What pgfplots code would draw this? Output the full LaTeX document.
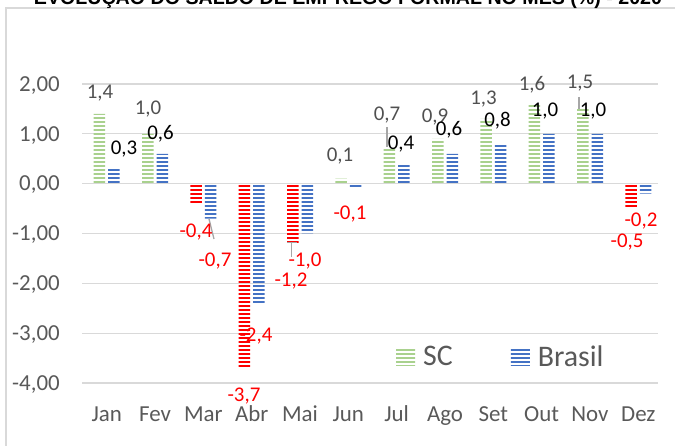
\documentclass[border=0pt]{standalone}
\usepackage{pgfplots}
\pgfplotsset{compat=1.18}
\usetikzlibrary{patterns.meta}
\usepackage{fontspec}
\setmainfont{Carlito}
\newfontfamily\titlefont{Liberation Sans}
\definecolor{scgreen}{HTML}{A9D18E}
\definecolor{brblue}{HTML}{4472C4}
\definecolor{negred}{HTML}{FF0000}
\definecolor{gridgray}{HTML}{D9D9D9}
\definecolor{txtgray}{HTML}{595959}
\definecolor{lblgray}{HTML}{505050}
\definecolor{leadgray}{HTML}{A6A6A6}
\newcommand{\lbl}[4]{\node[anchor=base,inner sep=0pt,text=#3,font=\fontsize{21}{21}\selectfont] at (axis cs:#1,#2) {#4};}
\begin{document}
\begin{tikzpicture}
\useasboundingbox (0,0) rectangle (675bp,446bp);
\clip (0,0) rectangle (675bp,446bp);
\draw[color=gridgray, line width=1.5bp] (6bp,-5bp) -- (6bp,438bp) -- (680bp,438bp);
\node[anchor=base, inner sep=0pt, font=\titlefont\bfseries\fontsize{19.7}{20}\selectfont] at (348bp,441.5bp) {EVOLUÇÃO DO SALDO DE EMPREGO FORMAL NO MÊS (\%) - 2020};
\begin{axis}[
  at={(82bp,63bp)}, anchor=south west,
  width=576bp, height=299bp, scale only axis,
  xmin=-0.511, xmax=11.407, ymin=-4, ymax=2,
  clip=false,
  axis line style={draw=none},
  tick style={draw=none},
  ymajorgrids, grid style={gridgray, line width=1.2bp},
  ytick={-4,-3,-2,-1,0,1,2},
  xtick={0,1,2,3,4,5,6,7,8,9,10,11},
  xticklabels={Jan,Fev,Mar,Abr,Mai,Jun,Jul,Ago,Set,Out,Nov,Dez},
  /pgf/number format/assume math mode=true,
  yticklabel style={/pgf/number format/.cd, fixed, fixed zerofill, precision=2, use comma, /tikz/.cd, anchor=base east, inner sep=0pt, xshift=-22bp, yshift=-7.3bp, text=txtgray, font=\fontsize{23}{23}\selectfont},
  xticklabel style={anchor=base, inner sep=0pt, yshift=-38.7bp, text=txtgray, font=\fontsize{23}{23}\selectfont},
  legend image code/.code={\path[#1,draw=none] (0bp,-9bp) rectangle (19bp,9bp);},
  legend style={at={(rel axis cs:0.545,0.087)}, anchor=west, draw=none, fill=none, legend columns=2, font=\fontsize{30}{30}\selectfont, text=txtgray, inner sep=0pt, nodes={inner sep=0pt},
    /tikz/every odd column/.append style={column sep=8bp},
    /tikz/every even column/.append style={column sep=58bp}},
]
\addplot[ybar, bar width=11.5bp, bar shift=-7.25bp, draw=none, pattern={Lines[angle=0,distance=4bp,line width=2bp]}, pattern color=scgreen]
  coordinates {(0,1.4) (1,1.0) (5,0.1) (6,0.7) (7,0.9) (8,1.3) (9,1.6) (10,1.5)};
\addlegendentry{SC}
\addplot[ybar, bar width=11.5bp, bar shift=7.25bp, draw=none, pattern={Lines[angle=0,distance=4bp,line width=2bp]}, pattern color=brblue]
  coordinates {(0,0.3) (1,0.6) (2,-0.7) (3,-2.4) (4,-1.0) (5,-0.1) (6,0.4) (7,0.6) (8,0.8) (9,1.0) (10,1.0) (11,-0.2)};
\addlegendentry{Brasil}
\addplot[ybar, bar width=11.5bp, bar shift=-7.25bp, draw=none, pattern={Lines[angle=0,distance=4bp,line width=2bp]}, pattern color=negred, forget plot]
  coordinates {(2,-0.4) (3,-3.7) (4,-1.2) (11,-0.5)};
% leader lines
\draw[leadgray, line width=1.3bp] (axis cs:2.117,-0.708) -- (axis cs:2.220,-1.110);
\draw[leadgray, line width=1.3bp] (axis cs:3.73,-1.184) -- (axis cs:3.93,-1.184);
\draw[leadgray, line width=1.3bp] (axis cs:3.828,-1.184) -- (axis cs:3.828,-1.471);
\draw[leadgray, line width=1.3bp] (axis cs:5.800,1.138) -- (axis cs:5.800,0.737);
\draw[leadgray, line width=1.3bp] (axis cs:9.772,1.740) -- (axis cs:9.772,1.499);
\lbl{-0.139}{1.718}{lblgray}{1,4}
\lbl{0.358}{0.584}{black}{0,3}
\lbl{0.855}{1.397}{lblgray}{1,0}
\lbl{1.113}{0.895}{black}{0,6}
\lbl{1.848}{-1.082}{negred}{-0,4}
\lbl{2.241}{-1.664}{negred}{-0,7}
\lbl{3.089}{-3.159}{negred}{-2,4}
\lbl{2.841}{-4.373}{negred}{-3,7}
\lbl{4.103}{-1.654}{negred}{-1,0}
\lbl{3.813}{-2.065}{negred}{-1,2}
\lbl{4.827}{0.444}{lblgray}{0,1}
\lbl{5.034}{-0.720}{negred}{-0,1}
\lbl{5.800}{1.276}{lblgray}{0,7}
\lbl{6.089}{0.684}{black}{0,4}
\lbl{6.793}{1.226}{lblgray}{0,9}
\lbl{7.083}{0.975}{black}{0,6}
\lbl{7.796}{1.587}{lblgray}{1,3}
\lbl{8.086}{1.146}{black}{0,8}
\lbl{8.800}{1.868}{lblgray}{1,6}
\lbl{9.069}{1.347}{black}{1,0}
\lbl{9.793}{1.908}{lblgray}{1,5}
\lbl{10.062}{1.347}{black}{1,0}
\lbl{11.055}{-0.851}{negred}{-0,2}
\lbl{10.766}{-1.282}{negred}{-0,5}
\end{axis}
\end{tikzpicture}
\end{document}
